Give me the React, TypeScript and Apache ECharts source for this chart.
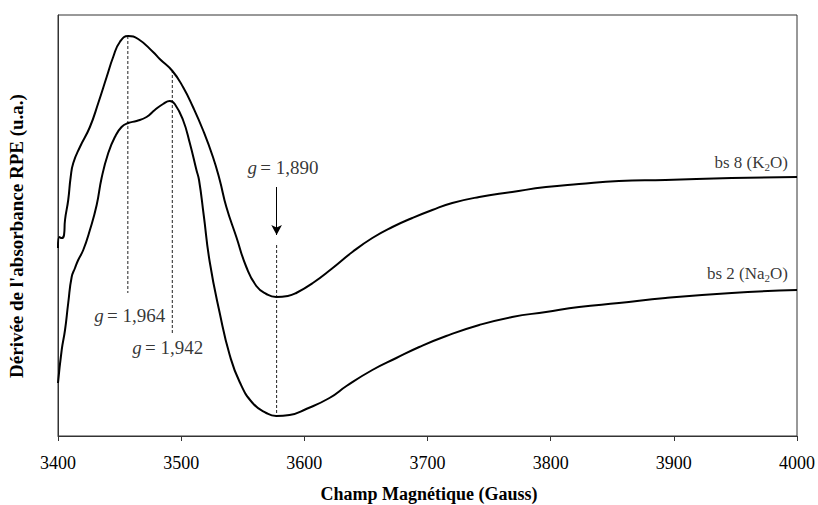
import React, { useEffect, useRef } from "react";
import * as echarts from "echarts";

// Magnetic field (Gauss) and EPR derivative signal (arbitrary units)
const k2oField = [3400, 3401.1, 3403.0, 3404.9, 3405.7, 3408.3, 3410.3, 3412.4, 3417.8, 3425.9, 3432.7, 3439.5, 3444.8, 3450.2, 3457.0, 3465.1, 3477.2, 3482.6, 3492.9, 3501.5, 3509.6, 3517.7, 3525.8, 3531.3, 3536.7, 3544.8, 3552.9, 3561.0, 3569.1, 3577.2, 3586.6, 3593.4, 3606.9, 3622, 3639.0, 3655.2, 3671.5, 3687.7, 3703.9, 3720.1, 3742.0, 3768.7, 3796.2, 3823.0, 3855.4, 3893.2, 3947.0, 4000];
const k2oSignal = [188, 199, 198, 201, 216, 236, 259, 273, 289, 309, 333, 359, 379, 394, 400, 397, 384, 377, 365, 349, 329, 306, 279, 256, 229, 199, 169, 150, 142, 139, 140, 143, 153, 167, 184, 198, 209, 218, 226, 233, 239, 244, 249, 252, 255, 256, 258, 259];

const na2oField = [3400, 3403.0, 3405.7, 3408.3, 3411.1, 3413.8, 3416.4, 3420.5, 3425.9, 3431.4, 3435.4, 3440.8, 3446.2, 3451.6, 3457.0, 3463.8, 3471.9, 3478.6, 3485.3, 3490.8, 3494.8, 3501.5, 3507.0, 3512.4, 3514.5, 3518.3, 3523.2, 3531.3, 3539.4, 3547.5, 3558.0, 3569.1, 3577.2, 3588.0, 3601.5, 3620.4, 3634.2, 3655.2, 3674.7, 3693.3, 3715.2, 3742.0, 3768.7, 3796.2, 3823.0, 3855.4, 3893.2, 3947.0, 4000];
const na2oSignal = [53, 86, 106, 133, 159, 168, 176, 186, 206, 231, 258, 283, 299, 309, 313, 315, 319, 326, 332, 335, 332, 316, 293, 266, 256, 221, 174, 123, 81, 54, 33, 23, 20, 21, 27, 38, 50, 66, 78, 89, 100, 111, 119, 124, 129, 133, 138, 143, 146];

// g-factor marker positions (field, top, bottom)
const markerField = [3456.7, 3492.8, 3577.5];
const markerTop = [400, 366, 191];
const markerBottom = [143, 103, 20];
const markerLabels = ["1,964", "1,942", "1,890"];
const markerLabelPos = [
  [3458.3, 121],
  [3489.1, 89],
  [3582.6, 269],
];
const arrowField = 3577.5;
const arrowFrom = 249;
const arrowTo = 201;

const seriesNames = ["bs 8 (K2O)", "bs 2 (Na2O)"];
const seriesLabelPos = [
  [3993.1, 274],
  [3993.1, 163],
];

const xTicks = [3400, 3500, 3600, 3700, 3800, 3900, 4000];

const SERIF = "'Liberation Serif', 'Times New Roman', serif";

export default function App() {
  const ref = useRef<HTMLDivElement>(null);

  useEffect(() => {
    if (!ref.current) return;
    const chart = echarts.init(ref.current, undefined, { renderer: "svg" });

    const pair = (xs: number[], ys: number[]) => xs.map((x, i) => [x, ys[i]]);

    const dashed = markerField.map((f, i) => ({
      type: "line",
      data: [
        [f, markerTop[i]],
        [f, markerBottom[i]],
      ],
      symbol: "none",
      silent: true,
      lineStyle: { color: "#222", width: 1, type: [3, 2] },
      z: 1,
    }));

    const gLabels = markerLabelPos.map((p, i) => ({
      type: "scatter",
      data: [p],
      symbolSize: 1,
      itemStyle: { color: "rgba(0,0,0,0)" },
      silent: true,
      label: {
        show: true,
        position: "inside",
        formatter: () => `{i|g} {n|= ${markerLabels[i]}}`,
        rich: {
          i: { fontFamily: SERIF, fontSize: 19, fontStyle: "italic", color: "#000" },
          n: { fontFamily: SERIF, fontSize: 19, color: "#000" },
        },
      },
    }));

    const nameLabels = seriesLabelPos.map((p, i) => ({
      type: "scatter",
      data: [p],
      symbolSize: 1,
      itemStyle: { color: "rgba(0,0,0,0)" },
      silent: true,
      label: {
        show: true,
        position: "left",
        distance: 0,
        formatter: () =>
          i === 0 ? "{a|bs 8 (K}{s|2}{a|O)}" : "{a|bs 2 (Na}{s|2}{a|O)}",
        rich: {
          a: { fontFamily: SERIF, fontSize: 17, color: "#000", lineHeight: 20, verticalAlign: "middle" },
          s: { fontFamily: SERIF, fontSize: 11, color: "#000", lineHeight: 20, verticalAlign: "bottom" },
        },
      },
    }));

    chart.setOption({
      animation: false,
      grid: {
        left: 58,
        right: 19,
        top: 15,
        bottom: 69,
        show: true,
        borderColor: "#333",
        borderWidth: 1,
      },
      xAxis: {
        type: "value",
        min: 3400,
        max: 4000,
        interval: 100,
        axisLine: { show: true, lineStyle: { color: "#333", width: 1 } },
        axisTick: { show: true, inside: false, length: 5, lineStyle: { color: "#333" } },
        axisLabel: {
          fontFamily: SERIF,
          fontSize: 18,
          color: "#000",
          margin: 18,
          formatter: (v: number) => (xTicks.includes(v) ? String(v) : ""),
        },
        splitLine: { show: false },
      },
      yAxis: {
        type: "value",
        min: 0,
        max: 421,
        axisLine: { show: true, lineStyle: { color: "#333", width: 1 } },
        axisTick: { show: false },
        axisLabel: { show: false },
        splitLine: { show: false },
      },
      graphic: [
        {
          type: "text",
          x: 429,
          y: 494,
          style: {
            text: "Champ Magnétique (Gauss)",
            fontFamily: SERIF,
            fontSize: 18,
            fontWeight: "bold",
            fill: "#000",
            textAlign: "center",
            textVerticalAlign: "middle",
          },
        },
        {
          type: "text",
          x: 16,
          y: 236,
          rotation: Math.PI / 2,
          style: {
            text: "Dérivée de l'absorbance RPE (u.a.)",
            fontFamily: SERIF,
            fontSize: 19,
            fontWeight: "bold",
            fill: "#000",
            textAlign: "center",
            textVerticalAlign: "middle",
          },
        },
      ],
      series: [
        {
          name: seriesNames[0],
          type: "line",
          data: pair(k2oField, k2oSignal),
          symbol: "none",
          smooth: 0.5,
          lineStyle: { color: "#000", width: 2 },
          z: 3,
        },
        {
          name: seriesNames[1],
          type: "line",
          data: pair(na2oField, na2oSignal),
          symbol: "none",
          smooth: 0.5,
          lineStyle: { color: "#000", width: 2 },
          z: 3,
        },
        ...dashed,
        {
          type: "line",
          data: [],
          symbol: "none",
          silent: true,
          markLine: {
            silent: true,
            symbol: ["none", "arrow"],
            symbolSize: [8, 10],
            label: { show: false },
            lineStyle: { color: "#000", width: 1, type: "solid" },
            data: [
              [
                { coord: [arrowField, arrowFrom] },
                { coord: [arrowField, arrowTo] },
              ],
            ],
          },
        },
        ...gLabels,
        ...nameLabels,
      ],
    });

    return () => chart.dispose();
  }, []);

  return <div ref={ref} style={{ width: 818, height: 505, position: "absolute", left: 0, top: 0 }} />;
}
